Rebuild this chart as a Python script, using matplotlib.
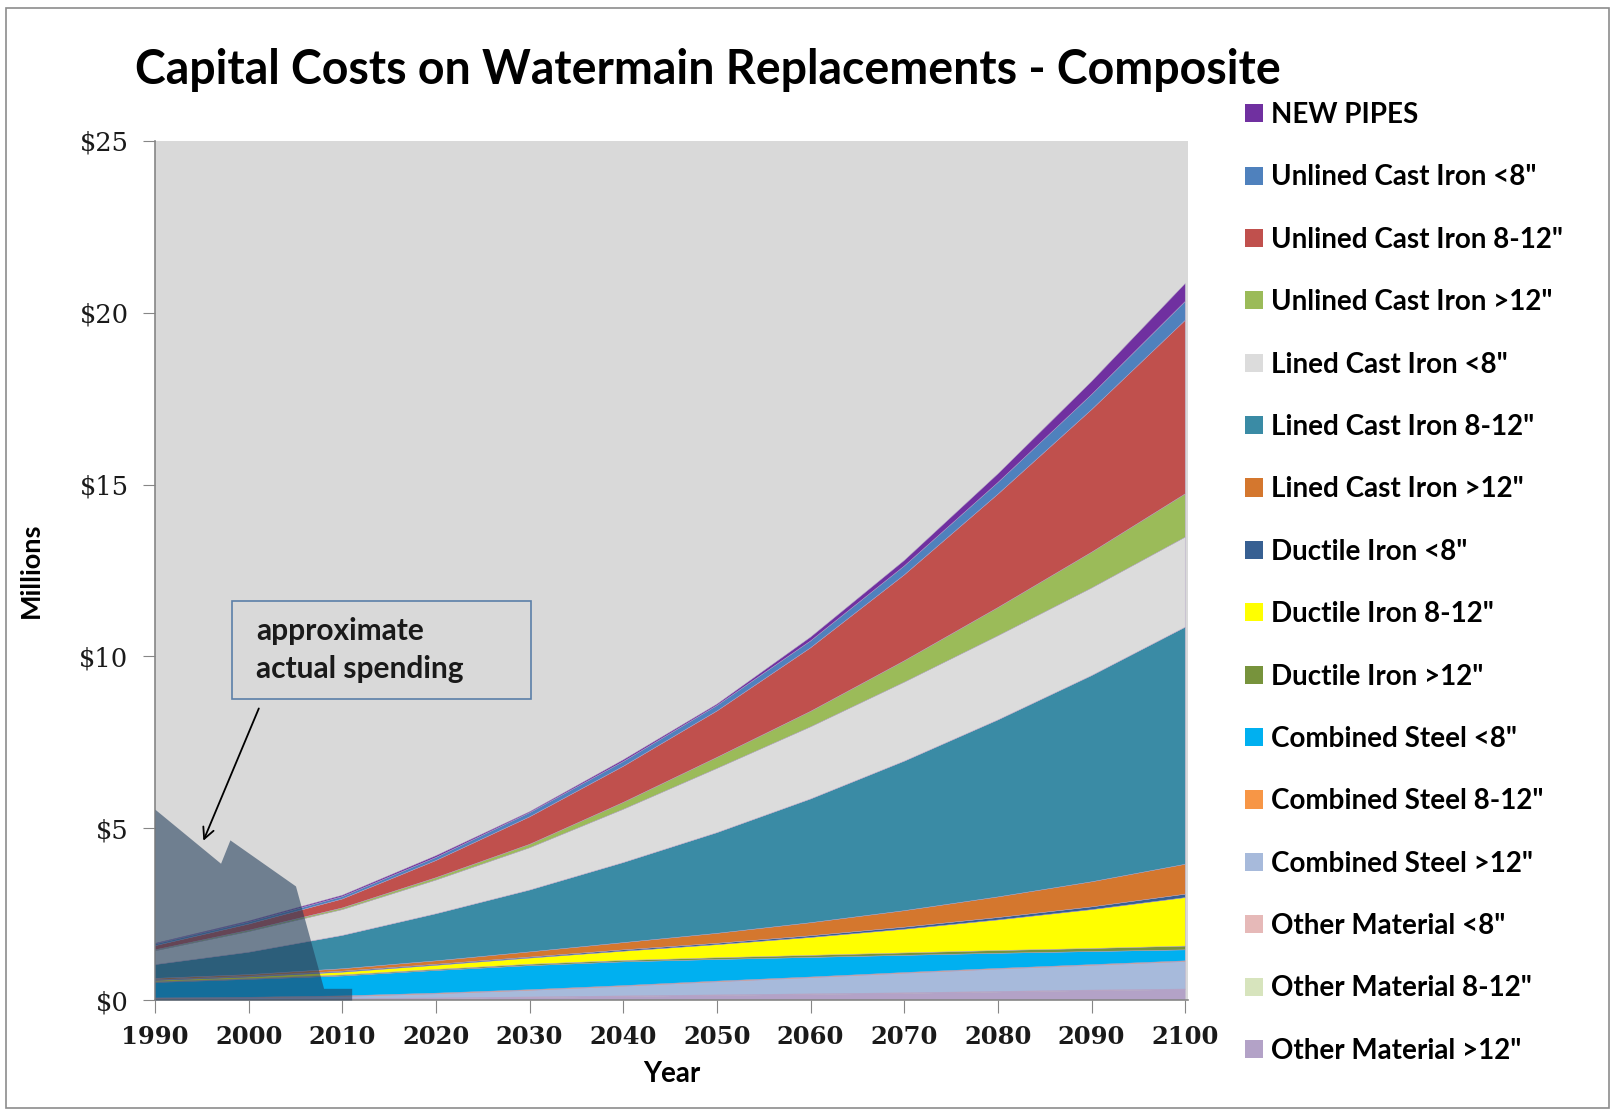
import matplotlib
matplotlib.use('Agg')
import matplotlib.pyplot as plt
from matplotlib.patches import Patch, Rectangle

# ---------------- data ----------------
years = [1990, 2000, 2010, 2020, 2030, 2040, 2050, 2060, 2070, 2080, 2090, 2100]

# stacked series, listed bottom -> top (millions $)
other_gt12      = [0.01, 0.02, 0.02, 0.04, 0.07, 0.10, 0.13, 0.16, 0.19, 0.23, 0.27, 0.30]
other_8_12      = [0.01, 0.01, 0.01, 0.01, 0.01, 0.01, 0.01, 0.01, 0.01, 0.01, 0.01, 0.01]
other_lt8       = [0.01, 0.01, 0.01, 0.01, 0.01, 0.01, 0.01, 0.01, 0.01, 0.01, 0.01, 0.01]
steel_gt12      = [0.01, 0.02, 0.06, 0.12, 0.19, 0.28, 0.38, 0.47, 0.57, 0.65, 0.72, 0.80]
steel_8_12      = [0.02, 0.02, 0.02, 0.02, 0.02, 0.02, 0.02, 0.02, 0.02, 0.02, 0.02, 0.02]
steel_lt8       = [0.45, 0.52, 0.58, 0.66, 0.70, 0.69, 0.63, 0.57, 0.50, 0.44, 0.38, 0.32]
ductile_gt12    = [0.02, 0.02, 0.03, 0.03, 0.04, 0.04, 0.05, 0.06, 0.07, 0.08, 0.09, 0.11]
ductile_8_12    = [0.04, 0.05, 0.08, 0.12, 0.18, 0.27, 0.38, 0.52, 0.69, 0.89, 1.13, 1.41]
ductile_lt8     = [0.02, 0.02, 0.03, 0.03, 0.03, 0.04, 0.04, 0.05, 0.06, 0.07, 0.08, 0.10]
lined_gt12      = [0.04, 0.05, 0.07, 0.10, 0.15, 0.21, 0.29, 0.38, 0.48, 0.60, 0.73, 0.87]
lined_8_12      = [0.40, 0.65, 0.97, 1.37, 1.80, 2.33, 2.93, 3.60, 4.35, 5.15, 6.00, 6.90]
lined_lt8       = [0.40, 0.60, 0.75, 0.98, 1.23, 1.55, 1.87, 2.10, 2.30, 2.45, 2.55, 2.62]
unlined_gt12    = [0.03, 0.04, 0.05, 0.07, 0.10, 0.20, 0.32, 0.45, 0.62, 0.82, 1.04, 1.26]
unlined_8_12    = [0.12, 0.18, 0.26, 0.50, 0.80, 1.05, 1.35, 1.85, 2.50, 3.30, 4.15, 5.05]
unlined_lt8     = [0.05, 0.06, 0.07, 0.09, 0.12, 0.14, 0.16, 0.20, 0.26, 0.34, 0.44, 0.55]
new_pipes       = [0.02, 0.03, 0.04, 0.05, 0.03, 0.05, 0.04, 0.11, 0.16, 0.25, 0.38, 0.52]

series = [other_gt12, other_8_12, other_lt8, steel_gt12, steel_8_12, steel_lt8,
          ductile_gt12, ductile_8_12, ductile_lt8, lined_gt12, lined_8_12, lined_lt8,
          unlined_gt12, unlined_8_12, unlined_lt8, new_pipes]
labels = ['Other Material >12"', 'Other Material 8-12"', 'Other Material <8"',
          'Combined Steel >12"', 'Combined Steel 8-12"', 'Combined Steel <8"',
          'Ductile Iron >12"', 'Ductile Iron 8-12"', 'Ductile Iron <8"',
          'Lined Cast Iron >12"', 'Lined Cast Iron 8-12"', 'Lined Cast Iron <8"',
          'Unlined Cast Iron >12"', 'Unlined Cast Iron 8-12"', 'Unlined Cast Iron <8"',
          'NEW PIPES']
colors = ['#B3A2C7', '#D7E4BD', '#E6B9B8',
          '#A7BADB', '#F79646', '#00B0F0',
          '#77933C', '#FFFF00', '#376092',
          '#D4772E', '#3A8BA5', '#DCDCDC',
          '#9BBB59', '#C0504D', '#4F81BD',
          '#7030A0']

# approximate actual spending overlay
actual_years = [1990, 1997, 1998, 2005, 2008, 2011]
actual_values = [5.55, 3.98, 4.66, 3.32, 0.34, 0.34]

yticks = [0, 5, 10, 15, 20, 25]
ytick_labels = ['$0', '$5', '$10', '$15', '$20', '$25']
xticks = list(range(1990, 2101, 10))

# ---------------- figure ----------------
W, H = 1617, 1114
fig = plt.figure(figsize=(W / 100, H / 100), dpi=100)
fig.patch.set_facecolor('white')

# outer chart border
fig.patches.append(Rectangle((6 / W, 6 / H), 1 - 14 / W, 1 - 14 / H,
                             transform=fig.transFigure, fill=False,
                             edgecolor='#8C8C8C', linewidth=1.2))

ax = fig.add_axes([155 / W, 1 - 1000 / H, (1188 - 155) / W, (1000 - 141) / H])
ax.set_facecolor('#D9D9D9')

ax.stackplot(years, *series, colors=colors, linewidth=0.3,
             edgecolors=colors)

ax.fill_between(actual_years, actual_values, 0, color='#233E5C', alpha=0.58,
                linewidth=0, zorder=5)

ax.set_xlim(1990, 2100.3)
ax.set_ylim(0, 25)

for s in ['top', 'right']:
    ax.spines[s].set_visible(False)
for s in ['left', 'bottom']:
    ax.spines[s].set_color('#868686')
    ax.spines[s].set_linewidth(1.2)

ax.set_yticks(yticks)
ax.set_yticklabels(ytick_labels, fontfamily='DejaVu Serif', fontsize=18.5,
                   color='#1A1A1A')
ax.set_xticks(xticks)
ax.set_xticklabels([str(x) for x in xticks], fontfamily='DejaVu Serif',
                   fontsize=17.5, fontweight='bold', color='#1A1A1A')
ax.tick_params(axis='y', direction='out', length=9, color='#868686', pad=10)
ax.tick_params(axis='x', direction='out', length=9, color='#868686', pad=9)

ax.set_ylabel('Millions', fontfamily='Lato', fontweight='bold', fontsize=19.5,
              labelpad=26)
ax.set_xlabel('Year', fontfamily='Lato', fontweight='bold', fontsize=20,
              labelpad=9)

fig.text(686 * 1617 / 1568 / W, 1 - 70 / H,
         'Capital Costs on Watermain Replacements - Composite',
         ha='center', va='center', fontfamily='Lato', fontweight='bold',
         fontsize=33.5)

# annotation box + arrow
fig.patches.append(Rectangle((232 / W, 1 - 699 / H), (531 - 232) / W, (699 - 601) / H,
                             transform=fig.transFigure, fill=False,
                             edgecolor='#5B7FA8', linewidth=1.2, zorder=10))
fig.text(256 / W, 1 - 650 / H, 'approximate\nactual spending',
         fontfamily='Lato', fontweight='bold', fontsize=21.5,
         ha='left', va='center', linespacing=1.45, color='#1A1A1A', zorder=11)
ax.annotate('', xy=(1995.05, 4.56), xytext=(2001.2, 8.56),
            arrowprops=dict(arrowstyle='->,head_length=0.8,head_width=0.4',
                            color='black', linewidth=1.3), zorder=10)

# legend (top -> bottom = reverse stacking order)
handles = [Patch(facecolor=c, edgecolor='none') for c in colors][::-1]
fig.legend(handles, labels[::-1], loc='upper left',
           bbox_to_anchor=(1245 / W, 1 - 102 / H), frameon=False,
           prop=dict(family='Lato', weight='bold', size=20),
           handlelength=0.63, handleheight=0.63, handletextpad=0.3,
           labelspacing=1.31, borderaxespad=0, borderpad=0)

fig.savefig('out.png', dpi=100)
